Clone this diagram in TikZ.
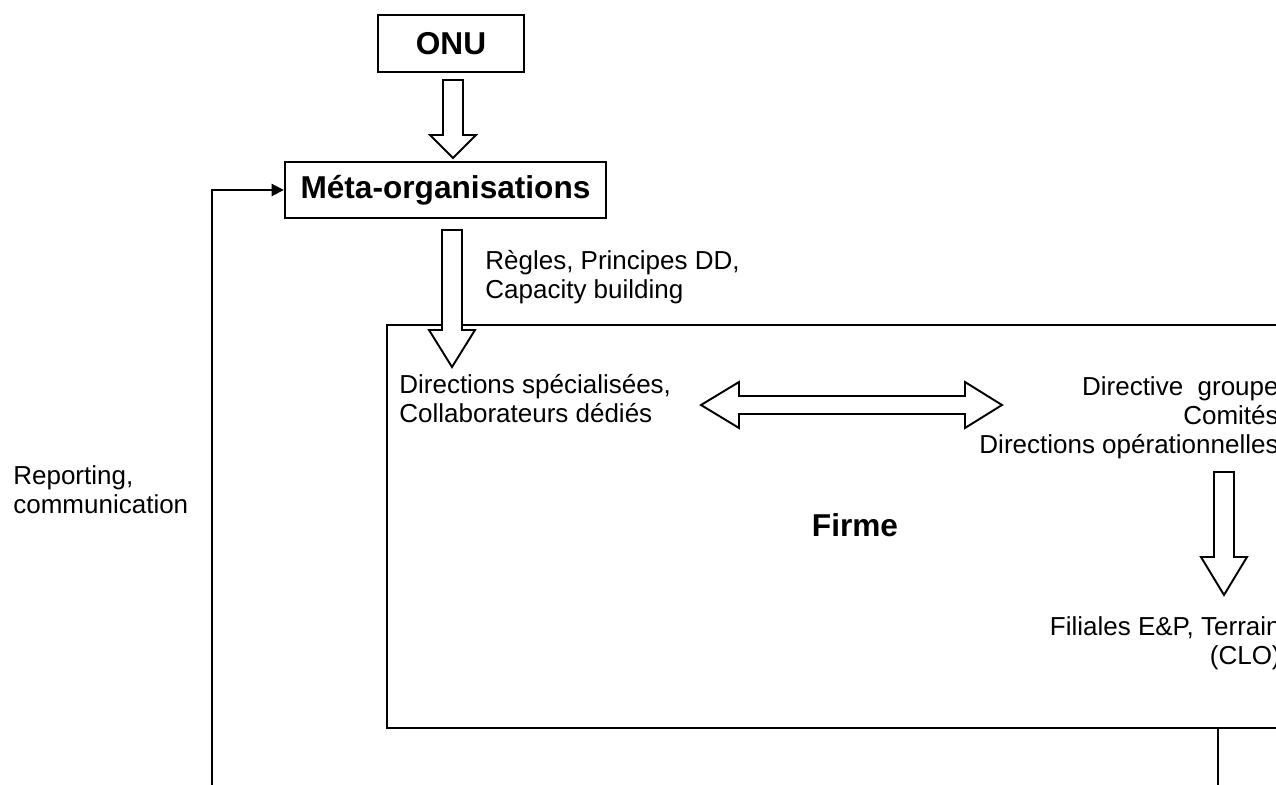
\documentclass[tikz,border=0pt]{standalone}
\usepackage{fontspec}
\setmainfont{Liberation Sans}
\usetikzlibrary{arrows.meta}
\def\vblock(#1,#2,#3,#4){\draw[blockarrow] (#1-10,#2) -- (#1+10,#2) -- (#1+10,#3-#4) -- (#1+23,#3-#4) -- (#1,#3) -- (#1-23,#3-#4) -- (#1-10,#3-#4) -- cycle;}

\begin{document}
\begin{tikzpicture}[x=0.02cm, y=-0.02cm,
		orgbox/.style={draw, line width=1.4pt, inner sep=0pt, font=\fontsize{18}{20}\selectfont\bfseries},
		blockarrow/.style={draw, line width=1.1pt, fill=white, line join=miter},
		txt/.style={inner sep=0pt, font=\fontsize{14.8}{16.5}\selectfont},
		link/.style={line width=1.1pt}]
		%%%%% START %%%%%
		
		\useasboundingbox (0,0) rectangle (1276,785);
		\clip (0,0) rectangle (1276,785);
		
		\node[orgbox, minimum width=2.92cm, minimum height=1.14cm] (onu) at (451,43.5) {ONU};
		\node[orgbox, minimum width=6.42cm, minimum height=1.12cm] (meta) at (445.5,190) {Méta-organisations};
		
		\draw[line width=1.2pt] (387,325) rectangle (1330,728);
		\node[txt, font=\fontsize{18}{20}\selectfont\bfseries, anchor=base] (firme) at (855,536) {Firme};
		
		% base = last line
		\node[txt, anchor=base west, align=left] (regles) at (485,298) {Règles, Principes DD,\\Capacity building};
		\node[txt, anchor=base west, align=left] (dirspec) at (399,422) {Directions spécialisées,\\Collaborateurs dédiés};
		\node[txt, anchor=base east, align=right] (dirgroupe) at (1279,453) {Directive\ \ groupe\\Comités\\Directions opérationnelles};
		\node[txt, anchor=base east, align=right] (filiales) at (1281,664) {Filiales E\&P, Terrain\\(CLO)};
		\node[txt, anchor=base west, align=left] (reporting) at (13,513) {Reporting,\\communication};
		
		% block arrows
		\vblock(453,80,158,23)
		\vblock(452,230,367,37)
		\vblock(1224,472,595,38)
		\draw[blockarrow] (701,405) -- (739,382) -- (739,396) -- (965,396) -- (965,382) -- (1002,405) -- (965,428) -- (965,414) -- (739,414) -- (739,428) -- cycle;
		
		% reporting loop
		\coordinate (rep) at (212,800);
		\coordinate (firmebot) at (1218,728);
		\coordinate (down) at (1218,800);
		\draw[link, -{Triangle[length=7pt,width=7pt]}] (rep) |- (meta.west);
		\draw[link] (firmebot) -- (down);
		
		%%%%% END %%%%%
\end{tikzpicture}
\end{document}
